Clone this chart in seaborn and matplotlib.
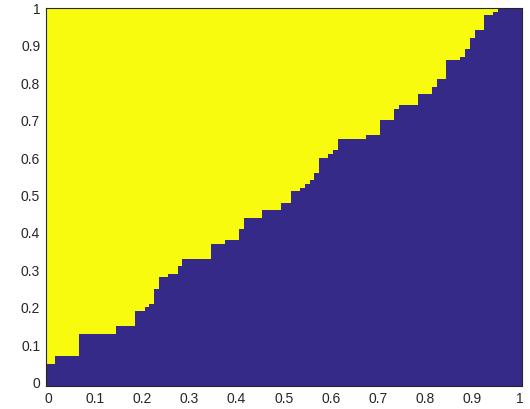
import numpy as np
import pandas as pd
import matplotlib
matplotlib.use("Agg")
import matplotlib.pyplot as plt
import seaborn as sns
from matplotlib.colors import ListedColormap

# frontera escalonada: inicio de cada escalon en x y altura de la region azul
step_x = [0.00, 0.02, 0.07, 0.15, 0.19, 0.21, 0.22, 0.23, 0.24, 0.26,
          0.28, 0.29, 0.35, 0.38, 0.41, 0.42, 0.46, 0.50, 0.52, 0.54,
          0.55, 0.56, 0.57, 0.58, 0.60, 0.61, 0.62, 0.68, 0.71, 0.74,
          0.75, 0.79, 0.82, 0.83, 0.85, 0.88, 0.89, 0.90, 0.91, 0.93,
          0.95, 0.96]
step_y = [0.05, 0.07, 0.13, 0.15, 0.19, 0.20, 0.21, 0.25, 0.28, 0.29,
          0.31, 0.33, 0.37, 0.38, 0.41, 0.44, 0.46, 0.48, 0.51, 0.52,
          0.53, 0.54, 0.56, 0.60, 0.61, 0.62, 0.65, 0.66, 0.70, 0.73,
          0.74, 0.77, 0.79, 0.81, 0.86, 0.87, 0.89, 0.92, 0.94, 0.98,
          0.99, 1.00]

tick_vals = [0, 0.1, 0.2, 0.3, 0.4, 0.5, 0.6, 0.7, 0.8, 0.9, 1]
tick_labels = ["0", "0.1", "0.2", "0.3", "0.4", "0.5", "0.6", "0.7", "0.8", "0.9", "1"]

# malla de 0 a 1 con paso 0.01
grid = np.round(np.arange(101) * 0.01, 2)
idx = np.searchsorted(step_x, grid + 1e-9, side="right") - 1
level = np.array(step_y)[idx]
Z = (grid[:, None] > level[None, :] + 1e-9).astype(int)   # filas = y, columnas = x
df = pd.DataFrame(Z, index=grid, columns=grid)

sns.set_style("white")
plt.rcParams["font.family"] = ["Liberation Sans", "DejaVu Sans"]

fig = plt.figure(figsize=(5.3, 4.09), dpi=100)
ax = fig.add_axes([45.7 / 530, 23 / 409, 476 / 530, 378 / 409])

cmap = ListedColormap(["#352a87", "#f9fb0e"])
sns.heatmap(df, ax=ax, cmap=cmap, vmin=0, vmax=1, cbar=False, linewidths=0)

ax.set_xlim(0, 101)
ax.set_ylim(0, 101)
pos = [v * 100 + 0.5 for v in tick_vals]
ax.set_xticks(pos)
ax.set_xticklabels(tick_labels, rotation=0)
ax.set_yticks(pos)
ax.set_yticklabels(tick_labels, rotation=0)
ax.set_xlabel("")
ax.set_ylabel("")

for s in ax.spines.values():
    s.set_visible(True)
    s.set_color("#262626")
    s.set_linewidth(0.8)
ax.tick_params(direction="in", top=True, right=True, length=4, width=0.8,
               color="#262626", labelcolor="#262626", labelsize=10, pad=4)

fig.savefig("out.png", dpi=100)
